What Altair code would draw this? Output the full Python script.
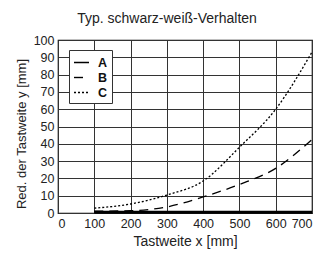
import altair as alt
import pandas as pd

x_vals = [100, 200, 300, 400, 500, 600, 700]
a_vals = [0.5, 0.5, 0.5, 0.5, 0.5, 0.5, 0.5]
b_vals = [1.0, 1.3, 3.5, 9.3, 16.5, 25.8, 42.5]
c_vals = [2.8, 5.2, 10.4, 18.5, 38.0, 60.0, 93.0]
series = ["A", "B", "C"]
x_ticks = [0, 100, 200, 300, 400, 500, 600, 700]
y_ticks = [0, 10, 20, 30, 40, 50, 60, 70, 80, 90, 100]
y_title = "Red. der Tastweite y [mm]"

rows = []
for s, vals in zip(series, [a_vals, b_vals, c_vals]):
    for x, y in zip(x_vals, vals):
        rows.append({"x": x, "y": y, "s": s})
df = pd.DataFrame(rows)

FONT = "Liberation Sans"

xscale = alt.Scale(domain=[0, 700], nice=False)
yscale = alt.Scale(domain=[0, 100], nice=False)
xaxis = alt.Axis(values=x_ticks, labelOverlap=False, title="Tastweite x [mm]")
yaxis = alt.Axis(values=y_ticks, labelOverlap=False, title=None)

lines = alt.Chart(df).mark_line(color="black", interpolate="monotone", strokeWidth=1.3).encode(
    x=alt.X("x:Q", scale=xscale, axis=xaxis),
    y=alt.Y("y:Q", scale=yscale, axis=yaxis),
    strokeDash=alt.StrokeDash("s:N", scale=alt.Scale(domain=series, range=[[1, 0], [9, 6], [2, 2]]),
                              legend=alt.Legend(title=None, orient="none", legendX=11, legendY=10)),
)
thick_a = alt.Chart(df).transform_filter(alt.datum.s == "A").mark_line(
    color="black", strokeWidth=3).encode(
    x=alt.X("x:Q", scale=xscale, axis=xaxis),
    y=alt.Y("y:Q", scale=yscale, axis=yaxis),
)
ytitle = alt.Chart(pd.DataFrame({"t": [y_title]})).mark_text(
    angle=270, font=FONT, fontSize=13, color="#222", align="center", baseline="middle").encode(
    x=alt.value(-36), y=alt.value(94), text="t:N")

chart = alt.layer(lines, thick_a, ytitle).properties(
    width=254, height=173,
    title=alt.TitleParams("Typ. schwarz-weiß-Verhalten", fontSize=14, font=FONT, fontWeight="normal",
                          color="#222", offset=8, dx=-18),
    autosize=alt.AutoSizeParams(type="none"),
    padding={"left": 50, "top": 32, "right": 15, "bottom": 40},
).configure_view(stroke="black", strokeWidth=1.2).configure_axis(
    grid=True, gridColor="#333", gridWidth=1, gridOpacity=1,
    domain=False, ticks=False,
    labelFont=FONT, labelFontSize=12.5, labelColor="#222", labelPadding=4,
    titleFont=FONT, titleFontSize=14, titleFontWeight="normal", titleColor="#222",
).configure_axisX(titlePadding=5).configure_legend(
    fillColor="white", strokeColor="#333", padding=4, rowPadding=0,
    symbolType="stroke", symbolSize=225, symbolStrokeWidth=1.4, symbolStrokeColor="black",
    labelFont=FONT, labelFontSize=12.5, labelFontWeight="bold", labelColor="#111", labelOffset=8,
)

chart.save("out.html", embed_options={"renderer": "svg", "actions": False})
